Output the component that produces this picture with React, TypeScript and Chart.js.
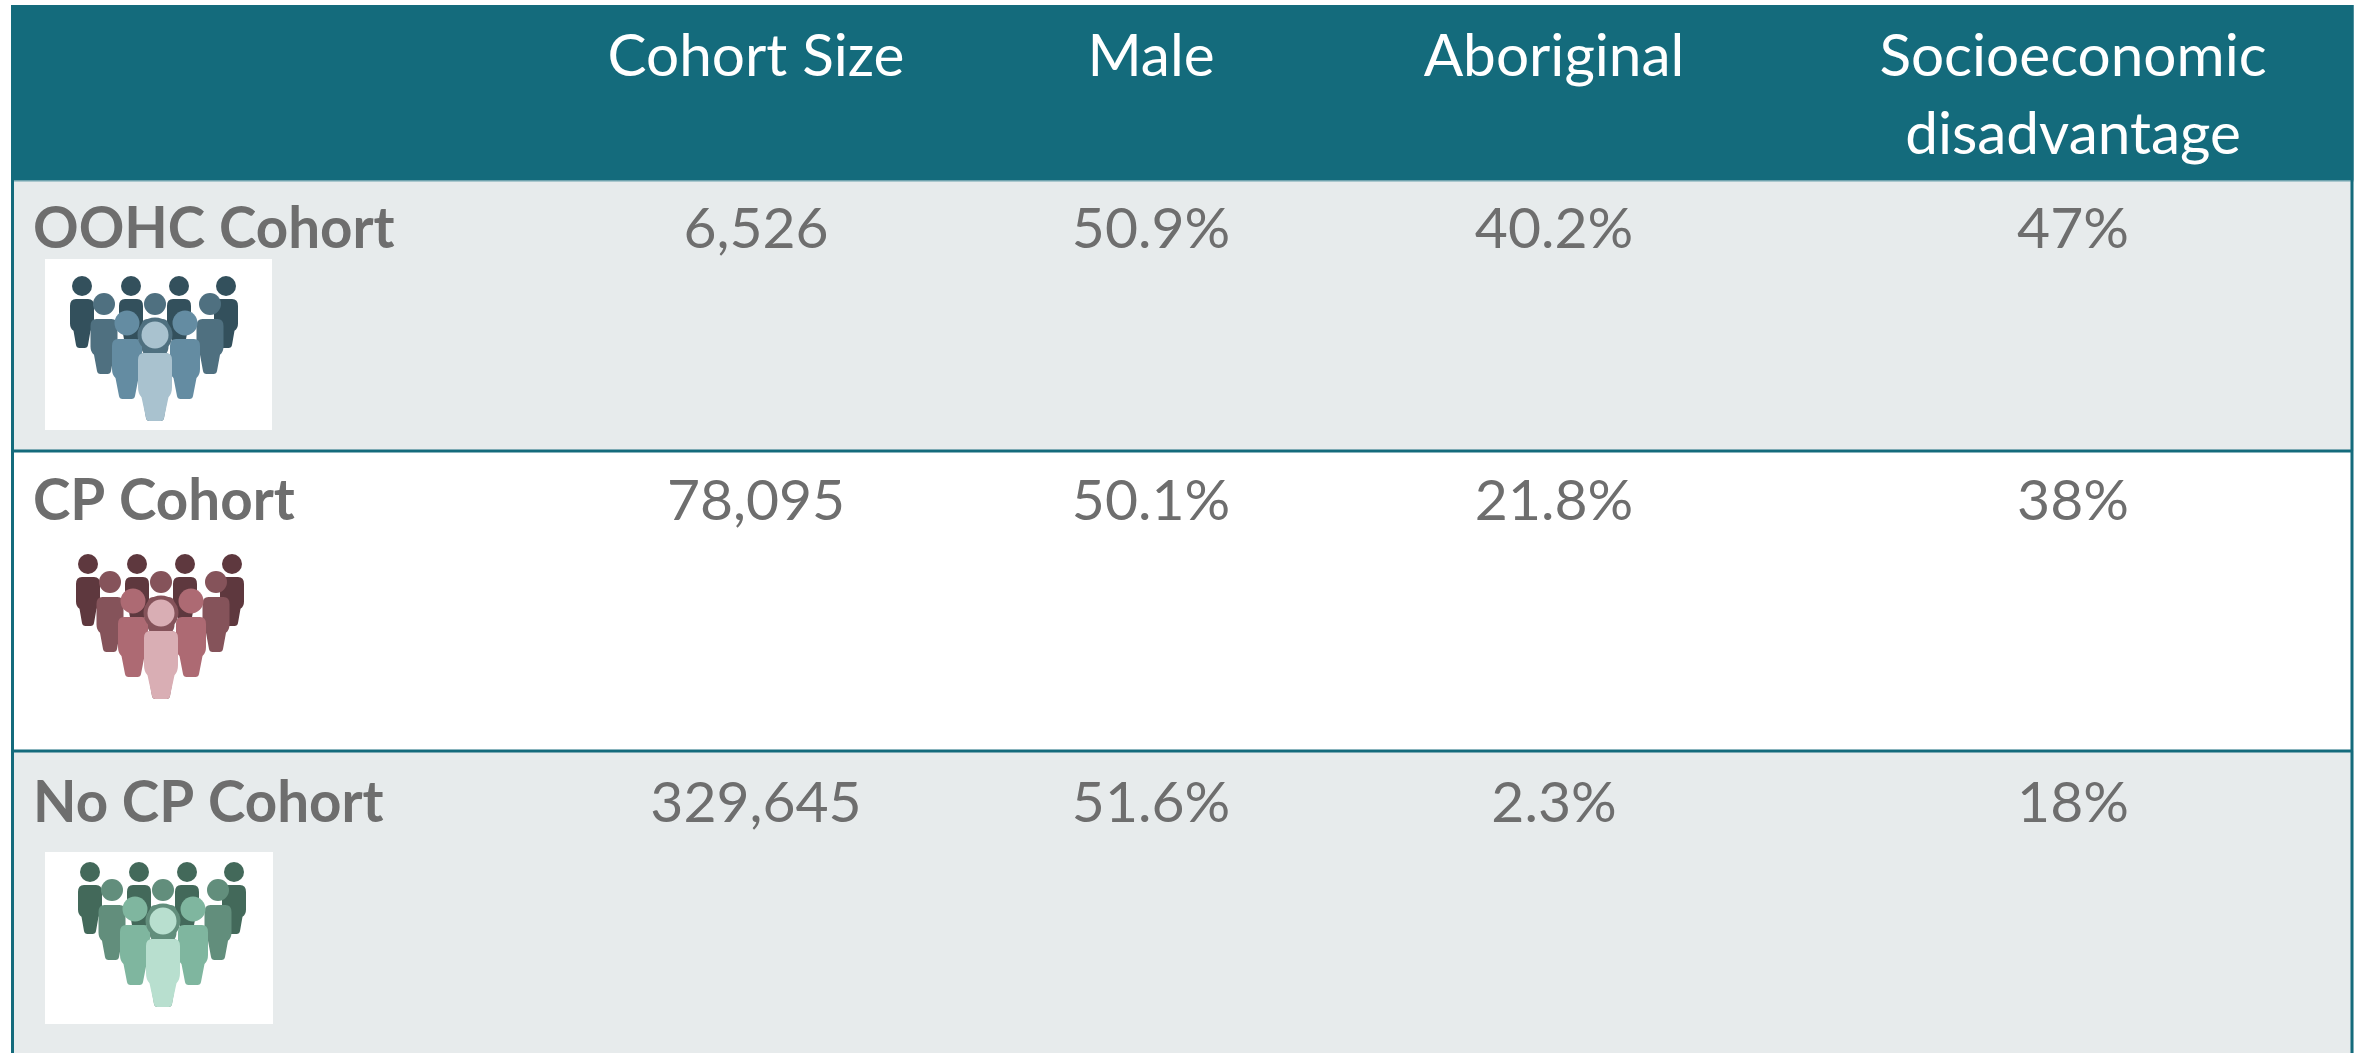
import React, { useEffect, useRef } from "react";
import { Chart, registerables } from "chart.js";

Chart.register(...registerables);

const WIDTH = 2356;
const HEIGHT = 1053;

// Table content
const columns = ["Cohort Size", "Male", "Aboriginal", "Socioeconomic\ndisadvantage"];
const cohorts = ["OOHC Cohort", "CP Cohort", "No CP Cohort"];
const cohortSize = [6526, 78095, 329645];
const malePct = [50.9, 50.1, 51.6];
const aboriginalPct = [40.2, 21.8, 2.3];
const disadvantagePct = [47, 38, 18];

// Layout, in the axis units (which equal full-size pixels)
const columnCentres = [756, 1151, 1554, 2073];
const rowTextY = [230, 502, 804];
const rowEdges = [180, 451, 751, 1053];
const headerLineY = [57, 135];
const tableLeft = 11;
const tableRight = 2353.5;
const iconOrigin = [
  { x: 81, y: 287 },
  { x: 87, y: 565 },
  { x: 89, y: 873 },
];
const iconBox = [
  { x0: 45, x1: 272, y0: 259, y1: 430 },
  null,
  { x0: 45, x1: 273, y0: 852, y1: 1024 },
];
const iconPalettes = [
  ["#33505c", "#4f7080", "#648ca2", "#a9c2cf"],
  ["#5e383e", "#85535a", "#ad6a73", "#d9aeb4"],
  ["#43695a", "#628e7c", "#7fb69f", "#b8dfcf"],
];

const TEAL = "#146b7c";
const BAND = "#e7ebec";
const TEXT = "#6e6e6e";
const FONT = "Lato";

const cellFormats: ((v: number) => string)[] = [
  (v) => v.toLocaleString("en-US"),
  (v) => v.toFixed(1) + "%",
  (v) => v.toFixed(1) + "%",
  (v) => v.toFixed(0) + "%",
];
const cellValues = [cohortSize, malePct, aboriginalPct, disadvantagePct];

function person(
  ctx: CanvasRenderingContext2D,
  sx: (v: number) => number,
  sy: (v: number) => number,
  ox: number,
  oy: number,
  p: number[],
  color: string
) {
  // p: centre x, head y, head radius, body top, body bottom, half width, foot half width
  const [cx, hy, r, top, bottom, hw, fw] = p;
  const X = (v: number) => sx(ox + v);
  const Y = (v: number) => sy(oy + v);
  ctx.fillStyle = color;
  ctx.beginPath();
  ctx.arc(X(cx), Y(hy), r, 0, Math.PI * 2);
  ctx.fill();
  const h = bottom - top;
  ctx.beginPath();
  ctx.moveTo(X(cx - hw + 6), Y(top));
  ctx.lineTo(X(cx + hw - 6), Y(top));
  ctx.quadraticCurveTo(X(cx + hw), Y(top), X(cx + hw), Y(top + 7));
  ctx.lineTo(X(cx + hw), Y(top + h * 0.5));
  ctx.quadraticCurveTo(X(cx + hw), Y(top + h * 0.6), X(cx + hw - 3.5), Y(top + h * 0.65));
  ctx.lineTo(X(cx + fw), Y(bottom - 3));
  ctx.quadraticCurveTo(X(cx + fw - 0.5), Y(bottom), X(cx + fw - 3.5), Y(bottom));
  ctx.lineTo(X(cx - fw + 3.5), Y(bottom));
  ctx.quadraticCurveTo(X(cx - fw + 0.5), Y(bottom), X(cx - fw), Y(bottom - 3));
  ctx.lineTo(X(cx - hw + 3.5), Y(top + h * 0.65));
  ctx.quadraticCurveTo(X(cx - hw), Y(top + h * 0.6), X(cx - hw), Y(top + h * 0.5));
  ctx.lineTo(X(cx - hw), Y(top + 7));
  ctx.quadraticCurveTo(X(cx - hw), Y(top), X(cx - hw + 6), Y(top));
  ctx.closePath();
  ctx.fill();
}

const tablePlugin = {
  id: "tablePlugin",
  beforeDatasetsDraw(chart: any) {
    const { ctx, scales } = chart;
    const sx = (v: number) => scales.x.getPixelForValue(v);
    const sy = (v: number) => scales.y.getPixelForValue(v);
    ctx.save();

    // bands
    const bandW = sx(tableRight) - sx(tableLeft);
    ctx.fillStyle = BAND;
    ctx.fillRect(sx(tableLeft), sy(rowEdges[0]), bandW, sy(rowEdges[1]) - sy(rowEdges[0]));
    ctx.fillRect(sx(tableLeft), sy(rowEdges[2]), bandW, sy(rowEdges[3]) - sy(rowEdges[2]));
    ctx.fillStyle = TEAL;
    ctx.fillRect(sx(tableLeft), sy(5), bandW, sy(rowEdges[0]) - sy(5));
    ctx.fillStyle = "#6fa3ae";
    ctx.fillRect(sx(tableLeft), sy(rowEdges[0]), bandW, 1.5);

    // borders
    ctx.strokeStyle = TEAL;
    ctx.lineWidth = 3;
    ctx.beginPath();
    ctx.moveTo(sx(12.5), sy(5));
    ctx.lineTo(sx(12.5), sy(1053));
    ctx.moveTo(sx(tableRight - 1.5), sy(5));
    ctx.lineTo(sx(tableRight - 1.5), sy(1053));
    ctx.moveTo(sx(tableLeft), sy(rowEdges[1]));
    ctx.lineTo(sx(tableRight), sy(rowEdges[1]));
    ctx.moveTo(sx(tableLeft), sy(rowEdges[2]));
    ctx.lineTo(sx(tableRight), sy(rowEdges[2]));
    ctx.stroke();

    // icons
    const people = [
      [1, -1, 10, 12, 61, 12, 6],
      [50, -1, 10, 12, 61, 12, 6],
      [98, -1, 10, 12, 61, 12, 6],
      [145, -1, 10, 12, 61, 12, 6],
    ];
    const mid = [
      [23, 17, 11, 32, 87, 13.5, 7],
      [74, 17, 11, 32, 87, 13.5, 7],
      [129, 17, 11, 32, 87, 13.5, 7],
    ];
    const third = [
      [46, 36, 12.5, 52, 112, 15, 8],
      [104, 36, 12.5, 52, 112, 15, 8],
    ];
    iconOrigin.forEach((o, i) => {
      const box = iconBox[i];
      if (box) {
        ctx.fillStyle = "#ffffff";
        ctx.fillRect(sx(box.x0), sy(box.y0), sx(box.x1) - sx(box.x0), sy(box.y1) - sy(box.y0));
      }
      const pal = iconPalettes[i];
      people.forEach((p) => person(ctx, sx, sy, o.x, o.y, p, pal[0]));
      mid.forEach((p) => person(ctx, sx, sy, o.x, o.y, p, pal[1]));
      third.forEach((p) => person(ctx, sx, sy, o.x, o.y, p, pal[2]));
      person(ctx, sx, sy, o.x, o.y, [74, 48, 17.5, 66, 134, 16, 9], pal[1]);
      person(ctx, sx, sy, o.x, o.y, [74, 48, 13.5, 66, 134, 17, 9], pal[3]);
    });

    // header labels
    ctx.textAlign = "center";
    ctx.textBaseline = "middle";
    ctx.fillStyle = "#ffffff";
    ctx.font = `400 58.5px ${FONT}`;
    columns.forEach((c, i) => {
      c.split("\n").forEach((line, j) => {
        ctx.fillText(line, sx(columnCentres[i]), sy(headerLineY[j]));
      });
    });

    // row labels
    ctx.textAlign = "left";
    ctx.fillStyle = TEXT;
    ctx.font = `700 56.5px ${FONT}`;
    cohorts.forEach((c, i) => ctx.fillText(c, sx(33), sy(rowTextY[i])));
    ctx.restore();
  },
  afterDatasetsDraw(chart: any) {
    const { ctx } = chart;
    ctx.save();
    ctx.textAlign = "center";
    ctx.textBaseline = "middle";
    ctx.fillStyle = TEXT;
    ctx.font = `400 57px ${FONT}`;
    chart.data.datasets.forEach((ds: any, c: number) => {
      const meta = chart.getDatasetMeta(c);
      meta.data.forEach((pt: any, r: number) => {
        ctx.fillText(cellFormats[c](cellValues[c][r]), pt.x, pt.y);
      });
    });
    ctx.restore();
  },
};

export default function App() {
  const ref = useRef<HTMLCanvasElement>(null);
  useEffect(() => {
    if (!ref.current) return;
    const chart = new Chart(ref.current, {
      type: "scatter",
      data: {
        datasets: columns.map((c, i) => ({
          label: c,
          data: cellValues[i].map((_, r) => ({ x: columnCentres[i], y: rowTextY[r] })),
          pointRadius: 0,
        })),
      },
      options: {
        animation: false,
        responsive: false,
        layout: { padding: 0 },
        plugins: { legend: { display: false }, tooltip: { enabled: false }, title: { display: false } },
        scales: {
          x: { type: "linear", min: 0, max: WIDTH, display: false },
          y: { type: "linear", min: 0, max: HEIGHT, reverse: true, display: false },
        },
      },
      plugins: [tablePlugin],
    });
    return () => chart.destroy();
  }, []);
  return (
    <div style={{ position: "absolute", left: 0, top: 0, width: WIDTH, height: HEIGHT, overflow: "hidden" }}>
      <canvas ref={ref} width={WIDTH} height={HEIGHT} style={{ display: "block" }} />
    </div>
  );
}
